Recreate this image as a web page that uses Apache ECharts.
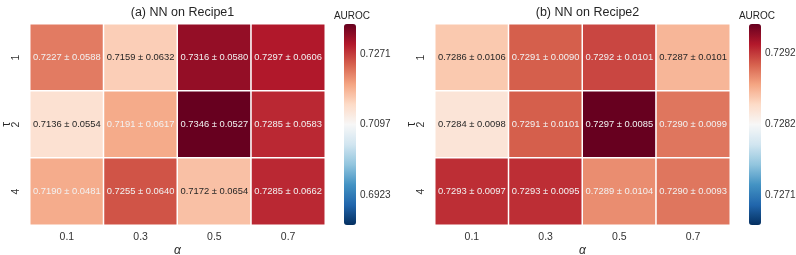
<!DOCTYPE html>
<html>
<head>
<meta charset="utf-8">
<script src="https://cdn.jsdelivr.net/npm/echarts@6/dist/echarts.min.js"></script>
<style>
html,body{margin:0;padding:0;background:#fff}
#main{width:796px;height:255px}
</style>
</head>
<body>
<div id="main"></div>
<script>
var alphaLabels = ['0.1', '0.3', '0.5', '0.7'];
var tauLabels = ['1', '2', '4'];
// rows = tau, cols = alpha
var meanA = [[0.7227, 0.7159, 0.7316, 0.7297], [0.7136, 0.7191, 0.7346, 0.7285], [0.7190, 0.7255, 0.7172, 0.7285]];
var stdA = [[0.0588, 0.0632, 0.0580, 0.0606], [0.0554, 0.0617, 0.0527, 0.0583], [0.0481, 0.0640, 0.0654, 0.0662]];
var meanB = [[0.7286, 0.7291, 0.7292, 0.7287], [0.7284, 0.7291, 0.7297, 0.7290], [0.7293, 0.7293, 0.7289, 0.7290]];
var stdB = [[0.0106, 0.0090, 0.0101, 0.0101], [0.0098, 0.0101, 0.0085, 0.0099], [0.0097, 0.0095, 0.0104, 0.0093]];
var rangeA = [0.6849, 0.7346];
var rangeB = [0.72671, 0.72969];
var cbTicksA = [0.6923, 0.7097, 0.7271];
var cbLabelsA = ['0.6923', '0.7097', '0.7271'];
var cbTicksB = [0.72715, 0.7282, 0.72925];
var cbLabelsB = ['0.7271', '0.7282', '0.7292'];
var darkBelowA = 0.718, darkBelowB = 0.7288; // light cells get dark text

var rdbu = ['#053061', '#2166ac', '#4393c3', '#92c5de', '#d1e5f0', '#f7f7f7', '#fddbc7', '#f4a582', '#d6604d', '#b2182b', '#67001f'];
var txt = '#262626';
var font = 'Liberation Sans, Arial, sans-serif';

function cells(mean, std, darkBelow) {
	var out = [];
	for (var r = 0; r < mean.length; r++) {
		for (var c = 0; c < mean[r].length; c++) {
			out.push({
				value: [c, r, mean[r][c]],
				std: std[r][c],
				label: {color: mean[r][c] < darkBelow ? txt : '#f2f2f2'}
			});
		}
	}
	return out;
}

var panels = [
	{title: '(a) NN on Recipe1', left: 30, cb: 344, mean: meanA, std: stdA, range: rangeA, ticks: cbTicksA, labels: cbLabelsA, dark: darkBelowA},
	{title: '(b) NN on Recipe2', left: 435, cb: 749, mean: meanB, std: stdB, range: rangeB, ticks: cbTicksB, labels: cbLabelsB, dark: darkBelowB}
];

var option = {
	animation: false,
	textStyle: {fontFamily: font},
	title: [], grid: [], xAxis: [], yAxis: [], visualMap: [], series: []
};

panels.forEach(function(p, i) {
	var gw = 295, cbw = 12;
	option.title.push({
		text: p.title, left: p.left + gw / 2, top: 1, textAlign: 'center',
		textStyle: {fontSize: 12.5, fontWeight: 'normal', color: txt, fontFamily: font}
	});
	option.title.push({
		text: 'AUROC', left: p.cb + 3, top: 6, textAlign: 'center',
		textStyle: {fontSize: 10, fontWeight: 'normal', color: txt, fontFamily: font}
	});
	// heatmap grid
	option.grid.push({left: p.left, top: 24, width: gw, height: 201, outerBoundsMode: 'none'});
	// colorbar axis grid
	option.grid.push({left: p.cb, top: 24, width: cbw, height: 201, outerBoundsMode: 'none'});

	option.xAxis.push({
		type: 'category', gridIndex: i * 2, data: alphaLabels,
		name: 'α', nameLocation: 'middle', nameGap: 20, nameMoveOverlap: false,
		nameTextStyle: {fontSize: 12, color: txt, fontStyle: 'italic'},
		axisLine: {show: false}, axisTick: {show: false}, splitArea: {show: false},
		axisLabel: {fontSize: 10.5, color: '#333', margin: 7}
	});
	option.yAxis.push({
		type: 'category', gridIndex: i * 2, data: tauLabels, inverse: true,
		name: 'τ', nameLocation: 'middle', nameGap: 17, nameRotate: 90, nameMoveOverlap: false,
		nameTextStyle: {fontSize: 12, color: txt},
		axisLine: {show: false}, axisTick: {show: false}, splitArea: {show: false},
		axisLabel: {fontSize: 10.5, color: '#333', rotate: 90, margin: 8}
	});
	option.xAxis.push({type: 'value', gridIndex: i * 2 + 1, show: false});
	option.yAxis.push({
		type: 'value', gridIndex: i * 2 + 1, position: 'right',
		min: p.range[0], max: p.range[1],
		axisLine: {show: false}, splitLine: {show: false},
		axisTick: {show: true, length: 3, lineStyle: {color: '#333'}, customValues: p.ticks},
		axisLabel: {
			fontSize: 10, color: '#333', margin: 4, customValues: p.ticks,
			formatter: function(v) {
				for (var k = 0; k < p.ticks.length; k++) {
					if (Math.abs(v - p.ticks[k]) < 1e-7) return p.labels[k];
				}
				return '';
			}
		}
	});
	option.visualMap.push({
		type: 'continuous', seriesIndex: i, min: p.range[0], max: p.range[1],
		calculable: false, orient: 'vertical', left: p.cb, top: 24,
		itemWidth: cbw, itemHeight: 201, padding: 0, text: null, showLabel: false,
		inRange: {color: rdbu}, hoverLink: false
	});
	option.series.push({
		type: 'heatmap', xAxisIndex: i * 2, yAxisIndex: i * 2,
		data: cells(p.mean, p.std, p.dark),
		itemStyle: {borderColor: '#fff', borderWidth: 1.5},
		emphasis: {disabled: true},
		label: {
			show: true, fontSize: 9.4, fontFamily: font,
			formatter: function(prm) {
				return prm.value[2].toFixed(4) + ' ± ' + prm.data.std.toFixed(4);
			}
		}
	});
});

var chart = echarts.init(document.getElementById('main'));
chart.setOption(option);
</script>
</body>
</html>
